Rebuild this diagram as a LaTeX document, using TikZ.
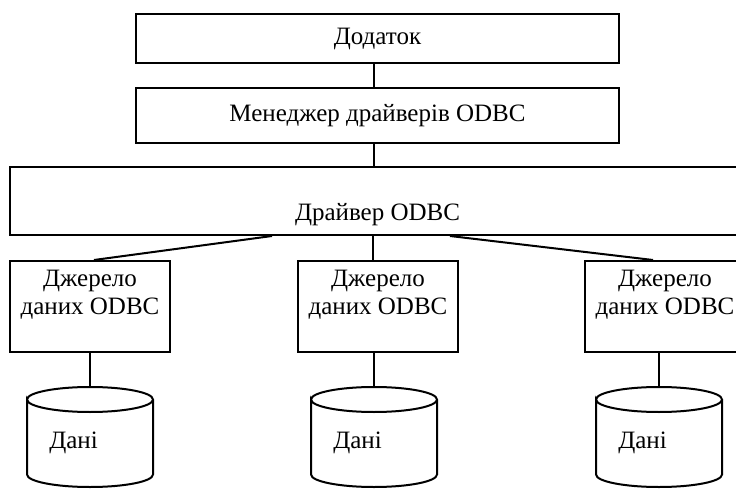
\documentclass[tikz,border=0pt]{standalone}
\usepackage{fontspec}
\setmainfont{Liberation Serif}
\tikzset{box/.style = {draw, inner sep = 0pt}}
\tikzset{srcbox/.style = {box, minimum width = 160pt, minimum height = 91pt}}
\tikzset{srctext/.style = {align = center, inner sep = 9pt, anchor = north}}
\tikzset{rim/.style = {x radius = 63, y radius = 12.5}}

\begin{document}
\begin{tikzpicture}[x = 1pt, y = 1pt, line width = 2pt, font = \fontsize{25}{28}\selectfont]
\useasboundingbox (0,0) rectangle (736,488);
\node[box, minimum width = 483pt, minimum height = 49pt] (app) at (377.5,449.5) {Додаток};
\node[box, minimum width = 483pt, minimum height = 55pt] (mgr) at (377.5,372.5) {Менеджер драйверів ODBC};
\node[box, minimum width = 735pt, minimum height = 68pt] (drv) at (377.5,287) {};
\node[anchor = base] (drvtext) at ([yshift = -20pt]drv.center) {Драйвер ODBC};
\draw ([xshift = -3.5pt]app.south) -- ([xshift = -3.5pt]mgr.north);
\draw ([xshift = -3.5pt]mgr.south) -- ([xshift = -3.5pt]drv.north);
\foreach \i/\sx/\cx in {1/90/90, 2/378/374, 3/665/659}{
  \node[srcbox] (src\i) at (\sx,181.5) {};
  \node[srctext] (srctext\i) at (src\i.north) {Джерело\\даних ODBC};
  \coordinate (data\i) at (\cx,101);
  \draw (\cx-63,88.5) arc[start angle = 180, end angle = -180, rim] -- (\cx-63,13.5)
    arc[start angle = 180, end angle = 360, rim] -- (\cx+63,88.5);
  \node[anchor = base west] (datatext\i) at (\cx-45,40) {Дані};
  \draw (data\i |- src\i.south) -- (data\i);
}
\draw ([xshift = -105.5pt]drv.south) -- ([xshift = 4pt]src1.north);
\draw ([xshift = -4.5pt]drv.south) -- ([xshift = -5pt]src2.north);
\draw ([xshift = 72.5pt]drv.south) -- ([xshift = -12pt]src3.north);
\end{tikzpicture}
\end{document}
